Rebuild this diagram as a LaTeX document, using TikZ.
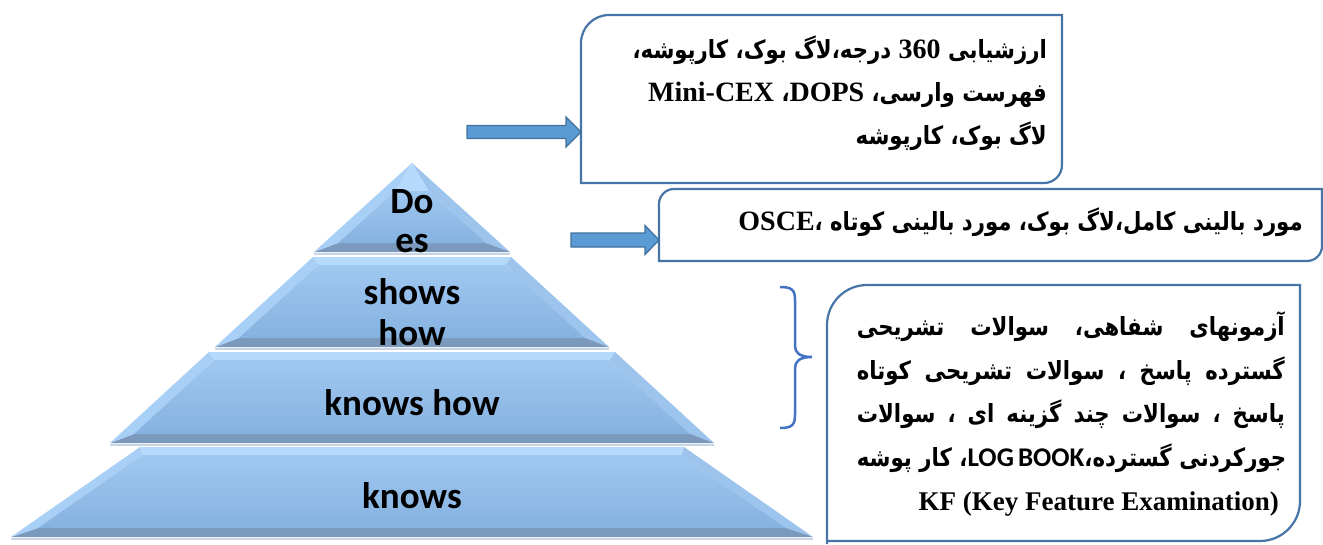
\documentclass[tikz,border=0pt]{standalone}
\usepackage{fontspec}
\TeXXeTstate=1
\newfontfamily\fa[Script=Arabic,FakeStretch=0.85]{DejaVu Sans}
\newfontfamily\tnr{Liberation Serif}
\newfontfamily\carl{Carlito}
\newcommand\latb{\tnr\bfseries\fontsize{28}{30}\selectfont}
\newcommand\latc{\tnr\bfseries\fontsize{27}{30}\selectfont}
\newcommand\calb{\carl\bfseries\fontsize{27}{30}\selectfont}
\newcommand\jg{\hspace{0.3em plus 1fill}}
\definecolor{boxline}{HTML}{4775A8}
\definecolor{arrfill}{HTML}{5B9BD5}
\definecolor{arrline}{HTML}{41719C}
\definecolor{bracec}{HTML}{4472C4}
\definecolor{pyrtop}{HTML}{B6DAFB}
\definecolor{pyrleft}{HTML}{A8CFF5}
\definecolor{pyrright}{HTML}{9CC4EC}
\definecolor{pyrbot}{HTML}{7B99BC}
\definecolor{pyrfaceT}{HTML}{9FC8F1}
\definecolor{pyrfaceB}{HTML}{86B2E0}
\definecolor{pyrgap}{HTML}{C9D5E2}
\newcommand\pyrtier[5]{%
  \pgfmathsetmacro\pysl{(#4-#3)/(#2-#1)}%
  \pgfmathsetmacro\pyit{#3+\pysl*#5-14}%
  \pgfmathsetmacro\pyib{#4-\pysl*9-14}%
  \coordinate (PA) at (412-#3,#1);
  \coordinate (PB) at (412+#3,#1);
  \coordinate (PC) at (412+#4,#2);
  \coordinate (PD) at (412-#4,#2);
  \coordinate (Pa) at (412-\pyit,#1+#5);
  \coordinate (Pb) at (412+\pyit,#1+#5);
  \coordinate (Pc) at (412+\pyib,#2-9);
  \coordinate (Pd) at (412-\pyib,#2-9);
  \fill[pyrtop] (PA) -- (PB) -- (Pb) -- (Pa) -- cycle;
  \fill[pyrright] (PB) -- (PC) -- (Pc) -- (Pb) -- cycle;
  \fill[pyrbot] (PD) -- (PC) -- (Pc) -- (Pd) -- cycle;
  \fill[pyrleft] (PA) -- (PD) -- (Pd) -- (Pa) -- cycle;
  \shade[top color=pyrfaceT, bottom color=pyrfaceB] (Pa) -- (Pb) -- (Pc) -- (Pd) -- cycle;
  \draw[pyrgap, line width=1.6] (412-#4,#2+2) -- (412+#4,#2+2);
}
\begin{document}
\begin{tikzpicture}[x=1pt,y=-1pt,
  boxstyle/.style={draw=boxline, line width=2.2},
  fatext/.style={inner sep=0, font=\fa\bfseries\fontsize{25}{28}\selectfont},
  pyrtext/.style={inner sep=0, font=\carl\bfseries\fontsize{37}{40}\selectfont},
  blockarrow/.style={draw=arrline, fill=arrfill, line width=1.3, line join=miter},
  bracestyle/.style={draw=bracec, line width=2.5}]
\useasboundingbox (0,0) rectangle (1323,544);
\fill[white] (0,0) rectangle (1323,544);

% pyramid
\pyrtier{163}{252}{0}{98}{28}
\pyrtier{257}{347}{99}{197}{8}
\pyrtier{352}{443}{203}{302}{8}
\pyrtier{447}{537}{272}{401}{8}

\node[pyrtext, anchor=base] (do) at (412,213) {Do};
\node[pyrtext, anchor=base] (es) at (412,252) {es};
\node[pyrtext, anchor=base] (shows) at (412,304) {shows};
\node[pyrtext, anchor=base] (how) at (412,345) {how};
\node[pyrtext, anchor=base] (knowshow) at (412,415) {knows how};
\node[pyrtext, anchor=base] (knows) at (412,508) {knows};

% box 1
\draw[boxstyle] (581,183) -- (581,43) arc[start angle=180, end angle=270, radius=28] -- (1062,15) -- (1062,165) arc[start angle=0, end angle=90, radius=18] -- cycle;
\coordinate (b1w) at (581,132);
\node[fatext, anchor=base east] (b1l1) at (1047,58) {\beginR ارزشیابی \beginL{\latb 360}\endL{} درجه،لاگ بوک، کارپوشه،\endR};
\node[fatext, anchor=base east] (b1l2) at (1047,101) {\beginR فهرست وارسی، {\latb DOPS}، \beginL{\latb Mini-CEX}\endL\endR};
\node[fatext, anchor=base east] (b1l3) at (1047,144) {\beginR لاگ بوک، کارپوشه\endR};

% box 2
\draw[boxstyle] (659,261) -- (659,204) arc[start angle=180, end angle=270, radius=15] -- (1322,189) -- (1322,246) arc[start angle=0, end angle=90, radius=15] -- cycle;
\coordinate (b2w) at (659,240);
\node[fatext, anchor=base east] (b2l1) at (1303,230) {\beginR مورد بالینی کامل،لاگ بوک، مورد بالینی کوتاه ،{\latb OSCE}\endR};

% box 3
\draw[boxstyle] (827,544) -- (827,325) arc[start angle=180, end angle=270, radius=40] -- (1300,285) -- (1300,501) arc[start angle=0, end angle=90, radius=40] -- (827,541);
\node[fatext, anchor=base east] (b3l1) at (1285,335) {\hbox to 428pt{\beginR آزمونهای\jg شفاهی،\jg سوالات\jg تشریحی\endR}};
\node[fatext, anchor=base east] (b3l2) at (1285,379) {\hbox to 428pt{\beginR گسترده\jg پاسخ\jg ،\jg سوالات\jg تشریحی\jg کوتاه\endR}};
\node[fatext, anchor=base east] (b3l3) at (1285,422) {\hbox to 428pt{\beginR پاسخ\jg ،\jg سوالات\jg چند\jg گزینه\jg ای\jg ،\jg سوالات\endR}};
\node[fatext, anchor=base east] (b3l4) at (1285,466) {\hbox to 428pt{\beginR جورکردنی\jg گسترده،\beginL{\calb LOG BOOK}\endL{}،\jg کار\jg پوشه\endR}};
\node[inner sep=0, anchor=base east, font=\latc] (b3l5) at (1279,510) {KF (Key Feature Examination)};

% brace
\draw[bracestyle] (780,287) .. controls (792,287) and (795,290) .. (795,300) -- (795,346) .. controls (795,353) and (800,357) .. (812,357) .. controls (800,357) and (795,361) .. (795,368) -- (795,415) .. controls (795,425) and (792,428) .. (780,428);

% block arrows
\draw[blockarrow] (b1w) ++(-114,-6.5) -- ++(99,0) -- ++(0,-8.5) -- (b1w) -- ++(-15,15) -- ++(0,-8.5) -- ++(-99,0) -- cycle;
\draw[blockarrow] (b2w) ++(-88,-7) -- ++(74,0) -- ++(0,-7.5) -- (b2w) -- ++(-14,14.5) -- ++(0,-7.5) -- ++(-74,0) -- cycle;
\end{tikzpicture}
\end{document}
